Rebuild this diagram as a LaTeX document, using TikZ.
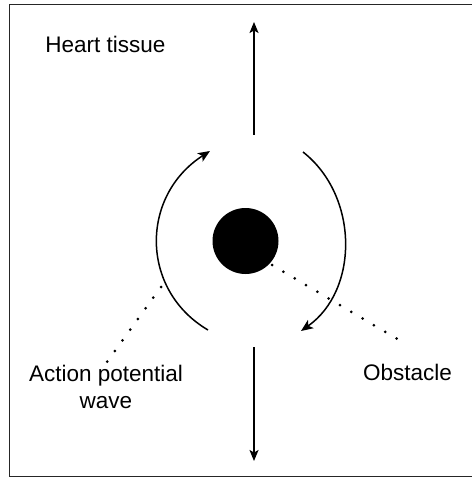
\documentclass[tikz,border=0pt]{standalone}
\usepackage{fontspec}
\setmainfont{Liberation Sans}
\usetikzlibrary{arrows.meta}
\begin{document}
\begin{tikzpicture}[x=1bp,y=-1bp,
  lbl/.style={inner sep=0pt,font=\fontsize{22.5bp}{27bp}\selectfont,align=center},
  arr/.style={line width=1.5bp,-{Stealth[length=11bp,width=9bp,inset=2.5bp]}},
  wave/.style={line width=1.5bp,-{Stealth[length=12bp,width=10bp,inset=3bp]}},
  dots/.style={line width=3bp,line cap=round,dash pattern=on 0bp off 13.15bp}]
\useasboundingbox (0,0) rectangle (472,477);
\begin{scope}
\clip (0,0) rectangle (472,477);
\draw[line width=1.3bp,black!85] (9.5,4.5) rectangle (480,476.6);
\end{scope}
\node[lbl,anchor=base] (heart) at (105.5,53) {Heart tissue};
\node[circle,fill=black,minimum size=66bp,inner sep=0pt] (obstacle) at (245.5,241) {};
\coordinate (upS) at (254,135);
\coordinate (upE) at (254,22);
\coordinate (dnS) at (254,347);
\coordinate (dnE) at (254,461);
\draw[arr] (upS) -- (upE);
\draw[arr] (dnS) -- (dnE);
\coordinate (lS) at (208,330);
\coordinate (lE) at (210,151);
\coordinate (rS) at (303,152);
\coordinate (rE) at (301,331);
\draw[wave] (lS) .. controls (140,290) and (140,196) .. (lE);
\draw[wave] (rS) .. controls (359,196) and (359,290) .. (rE);
\node[lbl,anchor=base] (obsl) at (407.5,380) {Obstacle};
\node[lbl,anchor=base] (apw) at (106,408) {Action potential\\wave};
\coordinate (d1a) at (272,265);
\coordinate (d1b) at (407.5,345);
\coordinate (d2a) at (161,287);
\coordinate (d2b) at (107,362);
\draw[dots] (d1a) -- (d1b);
\draw[dots] (d2a) -- (d2b);
\end{tikzpicture}
\end{document}
